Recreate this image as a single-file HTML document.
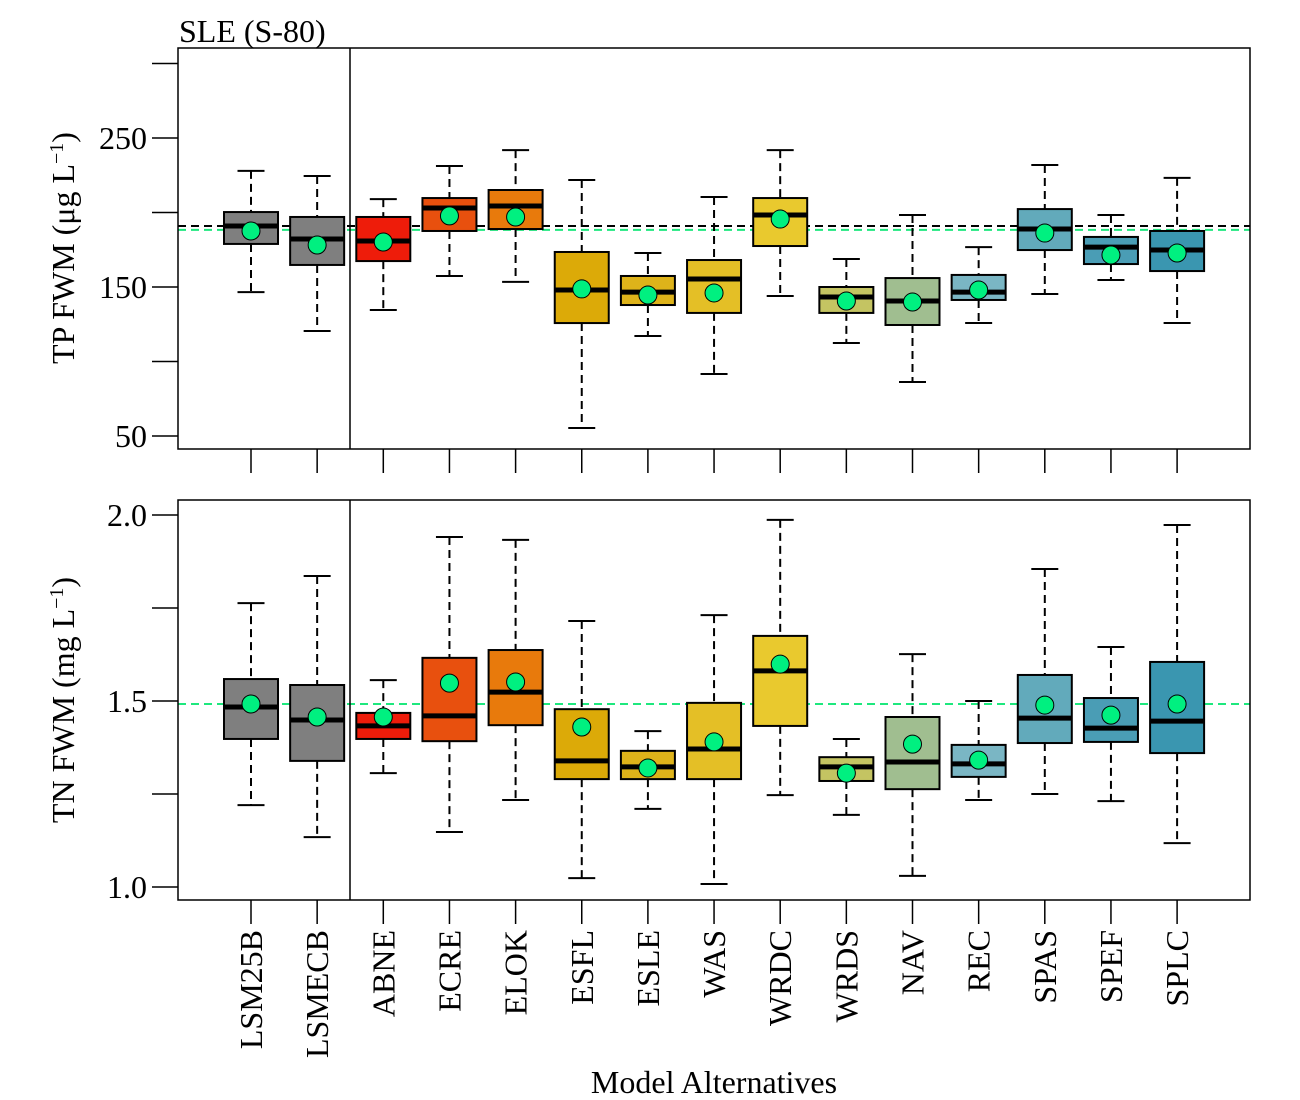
<!DOCTYPE html>
<html><head><meta charset="utf-8"><style>
body{margin:0;background:#fff;}
svg{display:block;font-family:"Liberation Serif",serif;}
</style></head><body>
<svg id="chart" width="1300" height="1100" xmlns="http://www.w3.org/2000/svg"></svg>
<script>
const categories=["LSM25B","LSMECB","ABNE","ECRE","ELOK","ESFL","ESLE","WAS","WRDC","WRDS","NAV","REC","SPAS","SPEF","SPLC"];
const colors=["#7f7f7f","#7f7f7f","#ee1c0a","#e8500e","#e87a0c","#dcaa08","#deb31a","#e4bf26","#e9c92e","#c4c462","#a0be90","#7ab6c4","#62aabb","#4a9db5","#3a96b0"];
const tpLow=[146.6,120.5,134.6,157.4,153.4,55.4,117.1,91.6,144,112.4,86.2,125.8,145.3,154.7,125.8];
const tpQ1=[178.9,164.8,167.4,187.6,188.9,125.8,137.9,132.6,177.5,132.6,124.5,141.3,174.8,165.4,160.7];
const tpMed=[190.9,182.2,180.9,203,204.4,148,146.6,155.4,198.3,143.3,140.6,146.6,188.9,176.8,174.8];
const tpQ3=[200.3,197,197,209.7,215.1,173.5,157.4,168.1,209.7,150,156,158.1,202.3,183.6,187.6];
const tpHigh=[227.9,224.5,209,231.2,241.9,221.8,172.8,210.4,241.9,168.8,198.3,176.8,231.9,198.3,223.2];
const tpMean=[187.6,178.2,180.2,197.7,197,148.7,144.6,146,195.6,140.6,139.9,148,186.2,171.5,172.8];
const tpRefBlack=190.9, tpRefGreen=188.3;
const tpTicks=[50,100,150,200,250,300];
const tpLabels=["50","","150","","250",""];
const tnLow=[1.220,1.134,1.306,1.148,1.234,1.024,1.210,1.008,1.247,1.194,1.030,1.234,1.250,1.231,1.118];
const tnQ1=[1.398,1.339,1.398,1.392,1.435,1.290,1.290,1.290,1.433,1.285,1.263,1.296,1.387,1.390,1.360];
const tnMed=[1.484,1.449,1.433,1.460,1.524,1.339,1.323,1.371,1.581,1.323,1.336,1.331,1.454,1.427,1.446];
const tnQ3=[1.559,1.543,1.468,1.616,1.637,1.478,1.366,1.495,1.675,1.349,1.457,1.382,1.570,1.508,1.605];
const tnHigh=[1.763,1.836,1.556,1.941,1.933,1.715,1.419,1.731,1.987,1.398,1.626,1.5,1.855,1.645,1.973];
const tnMean=[1.492,1.457,1.457,1.548,1.551,1.430,1.320,1.390,1.599,1.306,1.384,1.341,1.489,1.462,1.492];
const tnRefGreen=1.492;
const tnTicks=[1.0,1.25,1.5,1.75,2.0];
const tnLabels=["1.0","","1.5","","2.0"];

const svg=document.getElementById('chart');
const NS='http://www.w3.org/2000/svg';
function mk(tag,attrs,parent,text){const e=document.createElementNS(NS,tag);for(const k in attrs)e.setAttribute(k,attrs[k]);if(text!==undefined)e.textContent=text;(parent||svg).appendChild(e);return e;}
const xPos=i=>251+i*66.15;
const BW=54, CW=27, FS=32;

function panel(name,top,bottom,yfn,ticks,labels,low,q1,med,q3,high,mean,refs){
  const g=mk('g',{});
  
  
  refs.forEach(r=>{
    const l=mk('line',{x1:178,x2:1250,y1:yfn(r.v),y2:yfn(r.v),stroke:r.c,'stroke-width':2,'stroke-dasharray':'8,5'},g);
    
    
  });
  categories.forEach((c,i)=>{
    const x=xPos(i);
    const bg=mk('g',{},g);
    
    
    mk('line',{x1:x,x2:x,y1:yfn(high[i]),y2:yfn(q3[i]),stroke:'#000','stroke-width':2,'stroke-dasharray':'8,5'},bg);
    mk('line',{x1:x,x2:x,y1:yfn(q1[i]),y2:yfn(low[i]),stroke:'#000','stroke-width':2,'stroke-dasharray':'8,5'},bg);
    mk('line',{x1:x-CW/2,x2:x+CW/2,y1:yfn(high[i]),y2:yfn(high[i]),stroke:'#000','stroke-width':2},bg);
    mk('line',{x1:x-CW/2,x2:x+CW/2,y1:yfn(low[i]),y2:yfn(low[i]),stroke:'#000','stroke-width':2},bg);
    mk('rect',{x:x-BW/2,y:yfn(q3[i]),width:BW,height:yfn(q1[i])-yfn(q3[i]),fill:colors[i],stroke:'#000','stroke-width':2},bg);
    mk('line',{x1:x-BW/2,x2:x+BW/2,y1:yfn(med[i]),y2:yfn(med[i]),stroke:'#000','stroke-width':5},bg);
    const m=mk('circle',{cx:x,cy:yfn(mean[i]),r:9,fill:'#00f080',stroke:'#000','stroke-width':1},bg);
    
    
  });
  const fr=mk('rect',{x:178,y:top,width:1072,height:bottom-top,fill:'none',stroke:'#000','stroke-width':1.5},g);
  
  
  mk('line',{x1:350,x2:350,y1:top,y2:bottom,stroke:'#000','stroke-width':1.5},g);
  ticks.forEach((t,i)=>{
    mk('line',{x1:152,x2:178,y1:yfn(t),y2:yfn(t),stroke:'#000','stroke-width':1.5},g);
    if(labels[i]){const tl=mk('text',{x:147,y:yfn(t)+11,'text-anchor':'end','font-size':FS},g,labels[i]);
      
      }
  });
  categories.forEach((c,i)=>{mk('line',{x1:xPos(i),x2:xPos(i),y1:bottom,y2:bottom+24,stroke:'#000','stroke-width':1.5},g);});
}
const yTP=v=>436-(v-50)*1.49;
const yTN=v=>887-(v-1)*372;
panel('tp',48,449,yTP,tpTicks,tpLabels,tpLow,tpQ1,tpMed,tpQ3,tpHigh,tpMean,[{v:tpRefBlack,c:'#000',n:'tp-reference-line'},{v:tpRefGreen,c:'#1ee87e',n:'tp-mean-reference-line'}]);
panel('tn',500,900,yTN,tnTicks,tnLabels,tnLow,tnQ1,tnMed,tnQ3,tnHigh,tnMean,[{v:tnRefGreen,c:'#1ee87e',n:'tn-mean-reference-line'}]);

categories.forEach((c,i)=>{
  const x=xPos(i)+11;
  const t=mk('text',{x:x,y:930,'text-anchor':'end','font-size':FS,transform:`rotate(-90 ${x} 930)`},svg,c);
  
  
});
let t=mk('text',{x:714,y:1093,'text-anchor':'middle','font-size':FS},svg,'Model Alternatives');


t=mk('text',{x:179,y:42,'font-size':FS},svg,'SLE (S-80)');


t=mk('text',{x:0,y:0,'text-anchor':'middle','font-size':FS,transform:'translate(74 248) rotate(-90)'},svg);
t.innerHTML='TP FWM (μg L<tspan dy="-11" font-size="20">−1</tspan><tspan dy="11">)</tspan>';


t=mk('text',{x:0,y:0,'text-anchor':'middle','font-size':FS,transform:'translate(74 700) rotate(-90)'},svg);
t.innerHTML='TN FWM (mg L<tspan dy="-11" font-size="20">−1</tspan><tspan dy="11">)</tspan>';


</script>
</body></html>
